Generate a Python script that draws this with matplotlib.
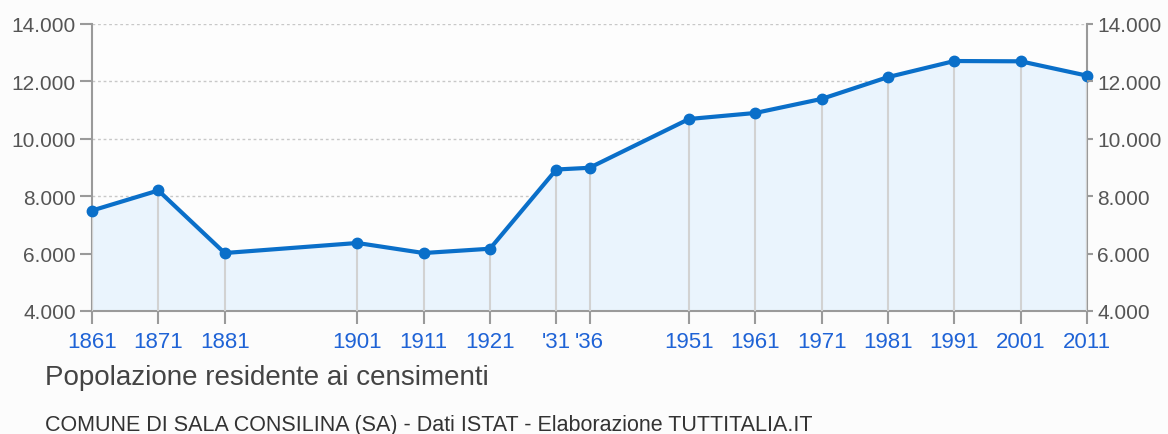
import matplotlib
matplotlib.use("Agg")
import matplotlib.pyplot as plt

# censimenti ISTAT, Sala Consilina
anni = [1861, 1871, 1881, 1901, 1911, 1921, 1931, 1936, 1951, 1961, 1971, 1981, 1991, 2001, 2011]
popolazione = [7500, 8200, 6020, 6370, 6020, 6170, 8930, 8990, 10690, 10900, 11390, 12150, 12710, 12700, 12200]
etichette = ["1861", "1871", "1881", "1901", "1911", "1921", "'31", "'36",
             "1951", "1961", "1971", "1981", "1991", "2001", "2011"]
y_ticks = [4000, 6000, 8000, 10000, 12000, 14000]
y_labels = ["4.000", "6.000", "8.000", "10.000", "12.000", "14.000"]

LINE = "#0a6fc9"
FILL = "#eaf4fd"
GRAY = "#9a9a9a"
TXT = "#555555"

plt.rcParams["font.family"] = ["Liberation Sans", "DejaVu Sans"]

fig = plt.figure(figsize=(11.68, 4.35), dpi=100, facecolor="#fcfcfc")
ax = fig.add_axes([92 / 1168, 1 - 312 / 435, (1087 - 92) / 1168, (312 - 25) / 435])
ax.set_facecolor("#fdfdfd")

ax.set_xlim(anni[0], anni[-1])
ax.set_ylim(4000, 14000)

# griglia orizzontale tratteggiata
for v in y_ticks[1:]:
    ax.axhline(v, color="#c8c8c8", lw=1, ls=(0, (2, 2)), zorder=1)

ax.fill_between(anni, 4000, popolazione, color=FILL, zorder=2)
ax.vlines(anni, 4000, popolazione, color="#d2d2d2", lw=1.5, zorder=3)
ax.plot(anni, popolazione, color=LINE, lw=3, marker="o", ms=7.5, zorder=4,
        clip_on=False)

for s in ["left", "right", "bottom"]:
    ax.spines[s].set_color(GRAY)
    ax.spines[s].set_linewidth(1.5)
ax.spines["top"].set_visible(False)

ax.set_xticks(anni)
ax.set_xticklabels(etichette, color="#1f63d6", fontsize=16)
ax.set_yticks(y_ticks)
ax.set_yticklabels(y_labels, color=TXT, fontsize=15)
ax.tick_params(axis="x", length=9.5, width=1.5, color=GRAY, pad=5)
ax.tick_params(axis="y", length=8.6, width=1.5, color=GRAY, pad=3)

ax2 = ax.twinx()
ax2.set_ylim(4000, 14000)
ax2.set_yticks(y_ticks)
ax2.set_yticklabels(y_labels, color=TXT, fontsize=15)
ax2.tick_params(axis="y", length=4.5, width=1.5, color=GRAY, pad=3)
for s in ax2.spines.values():
    s.set_visible(False)

fig.text(45 / 1168, 1 - 385 / 435, "Popolazione residente ai censimenti",
         fontsize=20, color="#444444", va="baseline", ha="left")
fig.text(45 / 1168, 1 - 431 / 435,
         "COMUNE DI SALA CONSILINA (SA) - Dati ISTAT - Elaborazione TUTTITALIA.IT",
         fontsize=15.5, color="#333333", va="baseline", ha="left")

fig.savefig("out.png", dpi=100, facecolor=fig.get_facecolor())
